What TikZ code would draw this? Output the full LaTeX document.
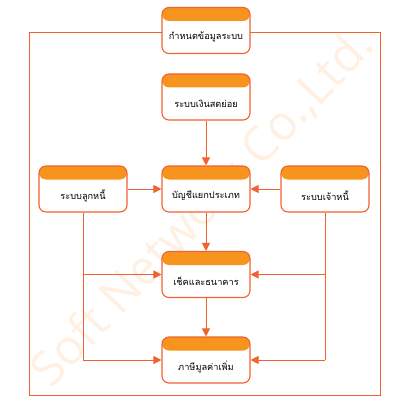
\documentclass[tikz,border=0pt]{standalone}
\usepackage{fontspec}
\newfontfamily\thaifont[Script=Thai]{Loma}
\newfontfamily\wmfont{Open Sans}
\usetikzlibrary{arrows.meta}
\definecolor{hdr}{HTML}{F7941D}
\definecolor{ln}{HTML}{F26130}
\definecolor{wm}{HTML}{FFF0E4}
\tikzset{
  flowbox/.style={draw=ln, line width=1.1pt, fill=white, rounded corners=7pt,
    minimum width=88pt, minimum height=46pt, inner sep=0pt,
    path picture={\fill[hdr] ([yshift=-13.5pt]path picture bounding box.north west) rectangle (path picture bounding box.north east);}},
  boxtext/.style={font=\thaifont\fontsize{9.2pt}{11pt}\selectfont, text=black, inner sep=0pt},
  conn/.style={draw=ln, line width=1pt},
  arr/.style={conn, -{Triangle[length=8pt,width=8pt]}}
}
\begin{document}
\begin{tikzpicture}[x=1pt,y=-1pt]
\useasboundingbox (0,0) rectangle (400,401);
% watermark
\node[wm, font=\wmfont\fontsize{48pt}{48pt}\selectfont, rotate=46.5, inner sep=0pt] (wmk) at (203,208) {Soft Network Co.,Ltd.};
% outer frame
\coordinate (fr1) at (29,33);
\coordinate (fr2) at (380,395);
\draw[conn] (fr1) rectangle (fr2);
% boxes
\node[flowbox] (top) at (206,30.5) {};
\node[flowbox] (cash) at (206,97) {};
\node[flowbox] (gl) at (206,189) {};
\node[flowbox] (ar) at (83,189) {};
\node[flowbox] (ap) at (325,189) {};
\node[flowbox] (bank) at (206,274.5) {};
\node[flowbox] (vat) at (206,360) {};
\node[boxtext] (top-t) at ([yshift=-6.5pt]top.center) {กำหนดข้อมูลระบบ};
\node[boxtext] (cash-t) at ([yshift=-6.5pt]cash.center) {ระบบเงินสดย่อย};
\node[boxtext] (gl-t) at ([yshift=-6.5pt]gl.center) {บัญชีแยกประเภท};
\node[boxtext] (ar-t) at ([yshift=-6.5pt]ar.center) {ระบบลูกหนี้};
\node[boxtext] (ap-t) at ([yshift=-6.5pt]ap.center) {ระบบเจ้าหนี้};
\node[boxtext] (bank-t) at ([yshift=-6.5pt]bank.center) {เช็คและธนาคาร};
\node[boxtext] (vat-t) at ([yshift=-6.5pt]vat.center) {ภาษีมูลค่าเพิ่ม};
% connectors
\draw[arr] (cash) -- (gl);
\draw[arr] (ar) -- (gl);
\draw[arr] (ap) -- (gl);
\draw[arr] (gl) -- (bank);
\draw[arr] (bank) -- (vat);
\coordinate (arb) at (ar.south |- bank.west);
\coordinate (arv) at (ar.south |- vat.west);
\coordinate (apb) at (ap.south |- bank.east);
\coordinate (apv) at (ap.south |- vat.east);
\draw[conn] (ar.south) -- (arv);
\draw[conn] (ap.south) -- (apv);
\draw[arr] (arb) -- (bank.west);
\draw[arr] (arv) -- (vat.west);
\draw[arr] (apb) -- (bank.east);
\draw[arr] (apv) -- (vat.east);
\end{tikzpicture}
\end{document}
